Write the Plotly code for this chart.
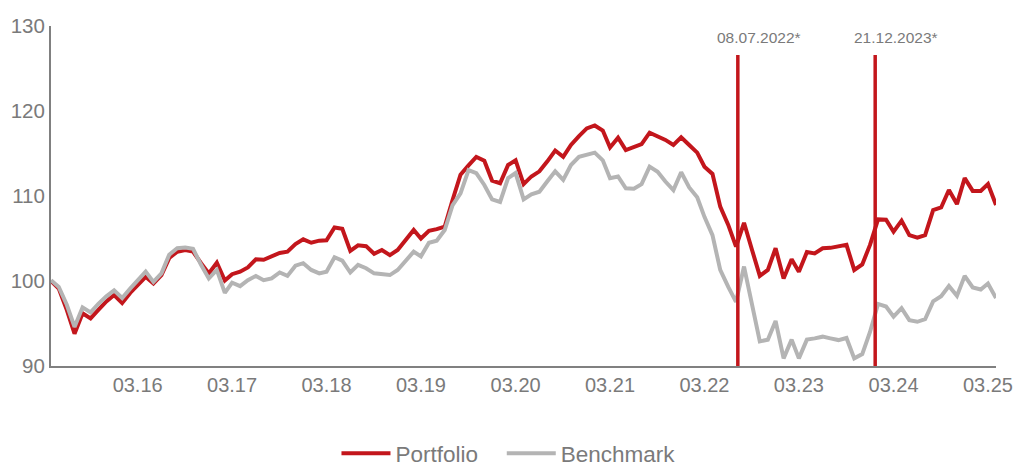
import pandas as pd
import plotly.graph_objects as go

dates = pd.date_range("2015-04-01", periods=121, freq="MS")

portfolio = [
    100.0, 99.1, 96.6, 93.8, 96.2, 95.6, 96.6, 97.6, 98.35, 97.4,
    98.6, 99.5, 100.5, 99.7, 100.7, 102.7, 103.45, 103.65, 103.45, 102.1,
    100.9, 102.15, 100.05, 100.8, 101.1, 101.6, 102.55, 102.5, 102.9, 103.3,
    103.45, 104.35, 104.9, 104.5, 104.75, 104.8, 106.3, 106.15, 103.55, 104.2,
    104.1, 103.2, 103.65, 103.05, 103.65, 104.8, 106.0, 105.0, 105.9, 106.1,
    106.4, 109.5, 112.5, 113.6, 114.6, 114.15, 111.8, 111.5, 113.65, 114.2,
    111.4, 112.3, 112.9, 114.05, 115.35, 114.6, 116.0, 117.05, 117.95, 118.3,
    117.7, 115.7, 116.85, 115.4, 115.7, 116.1, 117.45, 117.05, 116.6, 116.0,
    116.9, 116.0, 115.1, 113.45, 112.6, 108.75, 106.6, 104.05, 106.85, 103.65,
    100.6, 101.3, 103.85, 100.3, 102.55, 101.1, 103.4, 103.25, 103.85, 103.9,
    104.05, 104.25, 101.3, 101.95, 104.25, 107.25, 107.2, 105.8, 107.1, 105.4,
    105.1, 105.4, 108.35, 108.65, 110.7, 109.05, 112.1, 110.6, 110.6, 111.4,
    108.95,
]

benchmark = [
    100.1, 99.3, 97.2, 94.6, 96.9, 96.3, 97.3, 98.2, 98.9, 98.0,
    99.1, 100.1, 101.1, 99.9, 100.9, 103.1, 103.85, 103.95, 103.8, 101.9,
    100.3, 101.3, 98.6, 99.8, 99.4, 100.1, 100.6, 100.1, 100.3, 101.0,
    100.6, 101.8, 102.1, 101.3, 100.9, 101.1, 102.8, 102.4, 101.0, 101.9,
    101.5, 100.9, 100.8, 100.7, 101.3, 102.3, 103.45, 102.9, 104.5, 104.75,
    106.0, 108.9, 110.3, 113.05, 112.7, 111.3, 109.6, 109.3, 112.1, 112.7,
    109.6, 110.2, 110.5, 111.7, 112.9, 111.9, 113.65, 114.6, 114.8, 115.1,
    114.2, 112.1, 112.3, 110.9, 110.85, 111.4, 113.45, 112.85, 111.7, 110.7,
    112.8, 111.0, 109.85, 107.55, 105.4, 101.3, 99.3, 97.55, 101.7, 97.0,
    92.9, 93.1, 95.3, 90.9, 93.1, 90.9, 93.1, 93.25, 93.45, 93.25,
    93.05, 93.3, 90.9, 91.4, 94.0, 97.3, 97.0, 95.8, 96.8, 95.4,
    95.2, 95.5, 97.6, 98.2, 99.4, 98.25, 100.6, 99.25, 99.0, 99.7,
    98.0,
]

series_names = ["Portfolio", "Benchmark"]

tick_vals = [f"{y}-03-01" for y in range(2016, 2026)]
tick_text = [f"03.{str(y)[2:]}" for y in range(2016, 2026)]

event_dates = ["2022-07-08", "2023-12-21"]
event_labels = ["08.07.2022*", "21.12.2023*"]

RED = "#C3161C"
GREY = "#B4B4B4"
TXT = "#7A7A7A"
AX = "#808080"
FONT = "Liberation Sans, Arial, sans-serif"
PAD = "\u00a0\u00a0\u00a0"

fig = go.Figure()
fig.add_trace(go.Scatter(x=dates, y=portfolio, mode="lines", name=series_names[0] + PAD,
                         line=dict(color=RED, width=4)))
fig.add_trace(go.Scatter(x=dates, y=benchmark, mode="lines", name=series_names[1],
                         line=dict(color=GREY, width=4)))

for d, lab in zip(event_dates, event_labels):
    fig.add_shape(type="line", xref="x", yref="y", x0=d, x1=d, y0=90, y1=126.6,
                  line=dict(color=RED, width=3.5), layer="above")
    fig.add_annotation(x=d, y=128.7, xref="x", yref="y", text=lab, showarrow=False,
                       xshift=21, font=dict(family=FONT, size=15.5, color=TXT))

fig.update_layout(
    width=1015, height=465,
    margin=dict(l=51, r=19, t=26, b=99, autoexpand=False),
    paper_bgcolor="white", plot_bgcolor="white",
    font=dict(family=FONT, color=TXT),
    showlegend=True,
    legend=dict(orientation="h", xref="paper", yref="paper",
                x=0.4841, xanchor="center", y=-0.258, yanchor="middle",
                itemwidth=49,
                font=dict(family=FONT, size=22.5, color=TXT)),
    xaxis=dict(type="date", range=["2015-04-01", "2025-04-01"], automargin=False,
               tickvals=tick_vals, ticktext=tick_text, showgrid=False,
               zeroline=False, showline=True, linecolor=AX, linewidth=2,
               ticks="", tickfont=dict(family=FONT, size=20, color=TXT)),
    yaxis=dict(range=[90, 130], tickvals=[90, 100, 110, 120, 130], showgrid=False,
               automargin=False,
               zeroline=False, showline=True, linecolor=AX, linewidth=2,
               ticks="", tickfont=dict(family=FONT, size=20.5, color=TXT)),
)

fig.write_html("out.html", config={"displayModeBar": False},
               post_script="document.body.style.margin='0';document.body.style.overflow='hidden';")
